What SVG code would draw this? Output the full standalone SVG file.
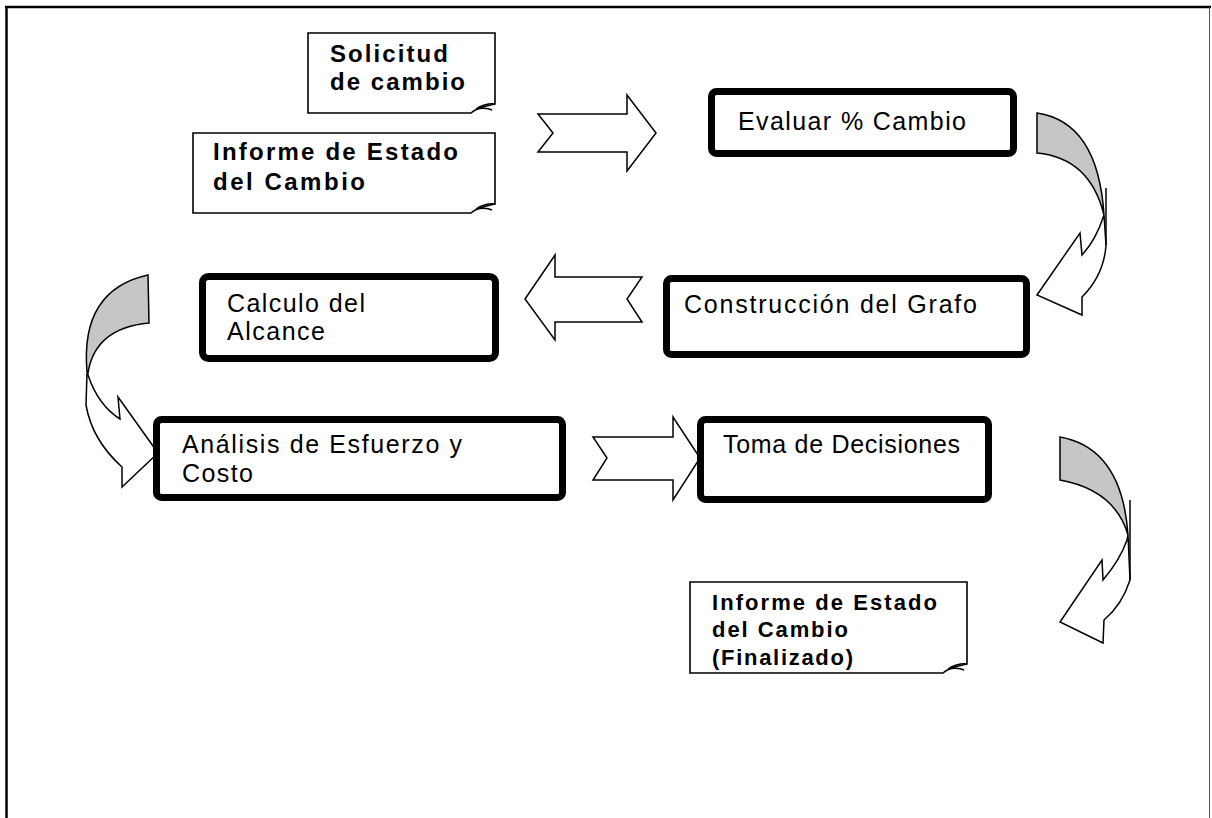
<svg xmlns="http://www.w3.org/2000/svg" width="1212" height="818" viewBox="0 0 1212 818">
<style>
.doc{fill:#fff;stroke:#000;stroke-width:1.6}
.curl{fill:none;stroke:#000;stroke-width:1.4}
.box{fill:#fff;stroke:#000;stroke-width:7}
.dt{font-family:"Liberation Sans",Arial,sans-serif;font-weight:bold;font-size:24px;fill:#000}
.dt2{font-family:"Liberation Sans",Arial,sans-serif;font-weight:bold;font-size:22px;fill:#000}
.nt{font-family:"Liberation Sans",Arial,sans-serif;font-size:25px;fill:#000}
.arr{fill:#fff;stroke:#000;stroke-width:1.5;stroke-linejoin:miter}
.back{fill:#c6c6c6;stroke:#000;stroke-width:1.5}
</style>
<rect width="1212" height="818" fill="#fff"/>
<g id="frame">
<line x1="5" y1="7" x2="1211" y2="7" stroke="#000" stroke-width="2.5"/>
<line x1="6.5" y1="6" x2="6.5" y2="818" stroke="#000" stroke-width="2.5"/>
<line x1="1209.5" y1="7" x2="1209.5" y2="818" stroke="#555" stroke-width="1"/>
</g>
<g id="connectors">
<path class="arr" d="M538,114 L627,114 L627,95 L656,133 L627,171 L627,152 L538,152 L553,133 Z"/>
<path class="arr" d="M525,299 L555,255 L555,277 L642,277 L627,299 L642,322 L555,322 L555,340 Z"/>
<path class="arr" d="M593,437 L673,437 L673,417 L700,458 L673,500 L673,480 L593,480 L607,458 Z"/>
<g id="curve1">
<path class="back" d="M1037,113 Q1098,122 1104,215 Q1090,158 1037,153 Z"/>
<path class="arr" d="M1104,215 L1106,245 Q1104,275 1082,297 L1082,315 L1037,295 L1080,233 L1082,255 Q1096,240 1104,215 Z"/>
<line x1="1106" y1="188" x2="1106" y2="245" stroke="#000" stroke-width="1.5"/>
</g>
<g id="curve2">
<path class="back" d="M148,275 L149,323 Q95,328 88,373 L87,372 Q80,290 148,275 Z"/>
<path class="arr" d="M87,373 L86,405 Q92,440 122,467 L122,487 L158,453 L118,397 L120,419 Q98,405 88,375 Z"/>
</g>
<g id="curve3">
<path class="back" d="M1060,437 Q1122,448 1128,535 Q1115,490 1060,480 Z"/>
<path class="arr" d="M1128,535 L1130,580 Q1122,605 1104,620 L1103,643 L1060,622 L1102,560 L1103,580 Q1120,560 1127,540 Z"/>
<line x1="1130" y1="500" x2="1130" y2="580" stroke="#000" stroke-width="1.5"/>
</g>
</g>
<g id="solicitud">
<path class="doc" d="M308,33 H495 V104 C486,106 476,108 471,113 H308 Z"/>
<path class="curl" d="M495,104 C488,103 480,106 476,109 C482,108 488,108 492,110"/>
<text class="dt" x="330" y="62" textLength="118" lengthAdjust="spacing">Solicitud</text>
<text class="dt" x="330" y="90" textLength="135" lengthAdjust="spacing">de cambio</text>
</g>
<g id="informe">
<path class="doc" d="M193,133 H495 V204 C486,206 476,208 471,213 H193 Z"/>
<path class="curl" d="M495,204 C488,203 480,206 476,209 C482,208 488,208 492,210"/>
<text class="dt" x="213" y="160" textLength="245" lengthAdjust="spacing">Informe de Estado</text>
<text class="dt" x="213" y="190" textLength="152" lengthAdjust="spacing">del Cambio</text>
</g>
<g id="evaluar">
<rect class="box" x="711.5" y="91.5" width="302" height="62" rx="5"/>
<text class="nt" x="738" y="130" textLength="228" lengthAdjust="spacing">Evaluar % Cambio</text>
</g>
<g id="construccion">
<rect class="box" x="666.5" y="278.5" width="360" height="76" rx="5"/>
<text class="nt" x="684" y="313" textLength="293" lengthAdjust="spacing">Construcción del Grafo</text>
</g>
<g id="calculo">
<rect class="box" x="202.5" y="276.5" width="293" height="82" rx="6"/>
<line x1="490" y1="284" x2="490" y2="351" stroke="#fff" stroke-width="1.5"/>
<text class="nt" x="227" y="312" textLength="138" lengthAdjust="spacing">Calculo del</text>
<text class="nt" x="227" y="340" textLength="98" lengthAdjust="spacing">Alcance</text>
</g>
<g id="analisis">
<rect class="box" x="156.5" y="419.5" width="406" height="78" rx="5"/>
<text class="nt" x="182" y="453" textLength="280" lengthAdjust="spacing">Análisis de Esfuerzo y</text>
<text class="nt" x="182" y="482" textLength="71" lengthAdjust="spacing">Costo</text>
</g>
<g id="toma">
<rect class="box" x="700.5" y="419.5" width="288" height="80" rx="5"/>
<text class="nt" x="723" y="453" textLength="237" lengthAdjust="spacing">Toma de Decisiones</text>
</g>
<g id="informe-final">
<path class="doc" d="M690,582 H967 V664 C958,666 948,668 943,673 H690 Z"/>
<path class="curl" d="M967,664 C960,663 952,666 948,669 C954,668 960,668 964,670"/>
<text class="dt2" x="712" y="610" textLength="225" lengthAdjust="spacing">Informe de Estado</text>
<text class="dt2" x="712" y="637" textLength="136" lengthAdjust="spacing">del Cambio</text>
<text class="dt2" x="712" y="665" textLength="141" lengthAdjust="spacing">(Finalizado)</text>
</g>
</svg>
